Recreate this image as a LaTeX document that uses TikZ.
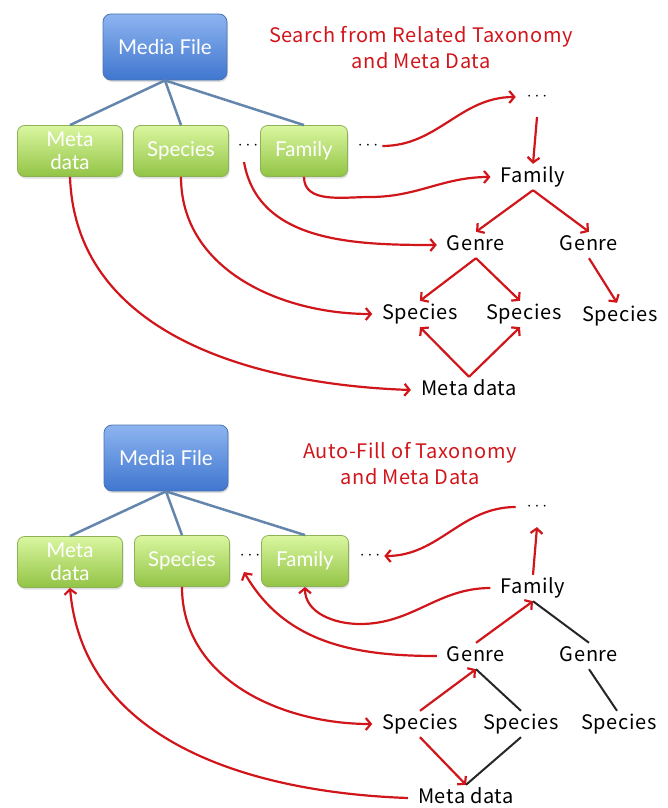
\documentclass[tikz,border=0pt]{standalone}
\usepackage{fontspec}
\setmainfont{Noto Sans CJK JP}[LetterSpace=3]
\newfontfamily\boxfont{Lato}
\usetikzlibrary{arrows.meta,shadows,calc}
\definecolor{redc}{HTML}{D0161B}
\definecolor{bluetop}{HTML}{8DB4F0}
\definecolor{bluebot}{HTML}{3F76CF}
\definecolor{blueborder}{HTML}{4A74B0}
\definecolor{greentop}{HTML}{DAF6A0}
\definecolor{greenbot}{HTML}{92C445}
\definecolor{greenborder}{HTML}{8DB255}
\definecolor{linkblue}{HTML}{6485AC}
\begin{document}
\begin{tikzpicture}[x=1pt,y=-1pt,
  bluebox/.style={draw=blueborder, line width=0.8pt, rounded corners=8pt, top color=bluetop, bottom color=bluebot,
    minimum width=124pt, minimum height=66pt, text=white, font=\boxfont\fontsize{20.5}{22}\selectfont,
    drop shadow={opacity=0.25, shadow xshift=1pt, shadow yshift=-2pt}},
  greenbox/.style={draw=greenborder, line width=0.8pt, rounded corners=7pt, top color=greentop, bottom color=greenbot,
    minimum height=51pt, text=white, align=center, font=\boxfont\fontsize{20.5}{23}\selectfont,
    drop shadow={opacity=0.25, shadow xshift=1pt, shadow yshift=-2pt}},
  lbl/.style={font=\fontsize{20}{22}\selectfont, text height=13pt, text depth=3pt, inner xsep=10pt, inner ysep=5pt},
  dotsn/.style={font=\fontsize{19}{22}\selectfont, inner xsep=4pt, inner ysep=12pt},
  ttl/.style={text=redc, align=center, font=\fontsize{20}{26}\selectfont},
  rarr/.style={draw=redc, line width=2.2pt, -{Straight Barb[length=5pt,width=12pt]}},
  bline/.style={draw=black!85, line width=2pt},
  link/.style={draw=linkblue, line width=2.5pt},
]
\useasboundingbox (0,0) rectangle (668,808);

% ================= TOP =================
\node[bluebox] (mf1) at (165,47) {Media File};
\node[greenbox, minimum width=105pt] (md1) at (70,151) {Meta\\data};
\node[greenbox, minimum width=95pt] (sp1) at (181,151) {Species};
\node[greenbox, minimum width=87pt] (fa1) at (304,151) {Family};
\node[dotsn] (d1a) at (248,146) {$\cdots$};
\node[dotsn] (d1b) at (368,146) {$\cdots$};
\node[ttl] (t1) at (421,48) {Search from Related Taxonomy\\and Meta Data};
\node[dotsn, inner xsep=11pt, inner ysep=16pt] (d1c) at (537,97) {$\cdots$};
\node[lbl] (fam1) at (533,177) {Family};
\node[lbl] (gl1) at (476,245) {Genre};
\node[lbl] (gr1) at (589,245) {Genre};
\node[lbl] (sl1) at (420,314) {Species};
\node[lbl] (sm1) at (524,314) {Species};
\node[lbl] (sr1) at (620,316) {Species};
\node[lbl] (mt1) at (469,390) {Meta data};

\draw[link] (mf1.south) -- (md1.north);
\draw[link] (mf1.south) -- (sp1.north);
\draw[link] (mf1.south) -- (fa1.north);

\draw[rarr] (d1b.east) to[out=0,in=180] (d1c.west);
\draw[rarr] (d1c.south) -- (fam1.north);
\draw[rarr] (fa1.south) to[out=-90,in=180] (370,197) to[out=0,in=180] (fam1.west);
\draw[rarr] ([xshift=-4pt]d1a.south) to[out=-80,in=180] (gl1.west);
\draw[rarr] (sp1.south) to[out=-90,in=180] (sl1.west);
\draw[rarr] (md1.south) to[out=-88,in=178] (mt1.west);
\draw[rarr] (fam1.south) -- (gl1.north);
\draw[rarr] (fam1.south) -- (gr1.north);
\draw[rarr] (gl1.south) -- (sl1.north);
\draw[rarr] (gl1.south) -- ([xshift=-4pt]sm1.north);
\draw[rarr] (gr1.south) -- ([xshift=-3pt]sr1.north);
\draw[rarr] (mt1.north) -- (sl1.south);
\draw[rarr] (mt1.north) -- ([xshift=-4pt]sm1.south);

% ================= BOTTOM =================
\node[bluebox] (mf2) at (166,458) {Media File};
\node[greenbox, minimum width=105pt] (md2) at (70,562) {Meta\\data};
\node[greenbox, minimum width=95pt] (sp2) at (182,561) {Species};
\node[greenbox, minimum width=87pt] (fa2) at (305,561) {Family};
\node[dotsn] (d2a) at (250,556) {$\cdots$};
\node[dotsn] (d2b) at (370,556) {$\cdots$};
\node[ttl] (t2) at (410,464) {Auto-Fill of Taxonomy\\and Meta Data};
\node[dotsn, inner xsep=11pt, inner ysep=16pt] (d2c) at (537,507) {$\cdots$};
\node[lbl] (fam2) at (533,588) {Family};
\node[lbl] (gl2) at (476,656) {Genre};
\node[lbl] (gr2) at (589,656) {Genre};
\node[lbl] (sl2) at (420,724) {Species};
\node[lbl] (sm2) at (521,724) {Species};
\node[lbl] (sr2) at (619,724) {Species};
\node[lbl] (mt2) at (466,798) {Meta data};

\draw[link] (mf2.south) -- (md2.north);
\draw[link] (mf2.south) -- (sp2.north);
\draw[link] (mf2.south) -- (fa2.north);

\draw[rarr] (d2c.west) to[out=180,in=0] (d2b.east);
\draw[rarr] (fam2.north) -- (d2c.south);
\draw[rarr] (fam2.west) to[out=180,in=0] (360,624) to[out=180,in=-90] (fa2.south);
\draw[rarr] (gl2.west) to[out=180,in=-60] ([xshift=-6pt]d2a.south);
\draw[rarr] (sp2.south) to[out=-90,in=180] (sl2.west);
\draw[rarr] (mt2.west) to[out=178,in=-85] (md2.south);
\draw[rarr] (sl2.north) -- (gl2.south);
\draw[bline] (gl2.south) -- (sm2.north);
\draw[rarr] (gl2.north) -- (fam2.south);
\draw[bline] (fam2.south) -- (gr2.north);
\draw[bline] (gr2.south) -- ([xshift=-2pt]sr2.north);
\draw[rarr] (sl2.south) -- (mt2.north);
\draw[bline] (mt2.north) -- (sm2.south);
\end{tikzpicture}
\end{document}
